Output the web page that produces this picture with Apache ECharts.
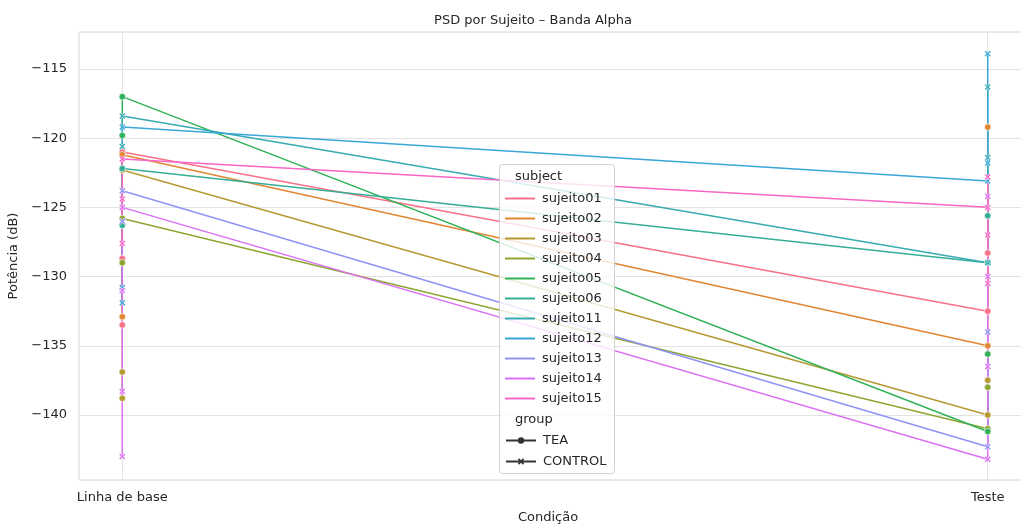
<!DOCTYPE html>
<html>
<head>
<meta charset="utf-8">
<script src="https://cdn.jsdelivr.net/npm/echarts@6/dist/echarts.min.js"></script>
<style>
  html, body { margin: 0; padding: 0; background: #fff; }
  #chart { width: 1021px; height: 524px; }
</style>
</head>
<body>
<div id="chart"></div>
<script>
// Conditions on the x axis
const conditions = ['Linha de base', 'Teste'];
const yTicks = [-140, -135, -130, -125, -120, -115];

const subjects = ['sujeito01', 'sujeito02', 'sujeito03', 'sujeito04', 'sujeito05', 'sujeito06',
                  'sujeito11', 'sujeito12', 'sujeito13', 'sujeito14', 'sujeito15'];
const groups = ['TEA', 'TEA', 'TEA', 'TEA', 'TEA', 'TEA',
                'CONTROL', 'CONTROL', 'CONTROL', 'CONTROL', 'CONTROL'];

// Alpha-band power (dB) per subject, in recording order, for each condition
const baseline = [
  [-133.5, -128.7, -121.0],
  [-132.9, -121.2],
  [-138.8, -136.9, -122.3],
  [-129.0, -125.8],
  [-119.8, -117.0],
  [-126.3, -122.2],
  [-120.6, -118.4],
  [-130.8, -131.9, -119.2],
  [-126.0, -123.8],
  [-143.0, -138.3, -131.0, -125.0],
  [-127.6, -124.4, -121.5]
];
const teste = [
  [-132.5, -128.3],
  [-135.0, -119.2],
  [-140.0, -137.5],
  [-141.0, -138.0],
  [-141.2, -135.6],
  [-129.0, -125.6],
  [-129.0, -121.4, -116.3],
  [-123.1, -113.9, -121.8],
  [-142.3, -134.0],
  [-143.2, -136.5, -130.0, -124.2],
  [-125.0, -122.8, -127.0, -130.5]
];

// HUSL colour conversion (same scheme as the seaborn "husl" palette)
function huslToRgb(h, s, l) {
  const m = [[3.2406, -1.5372, -0.4986], [-0.9689, 1.8758, 0.0415], [0.0557, -0.2040, 1.0570]];
  const refU = 0.19784, refV = 0.46834, labE = 0.008856, labK = 903.3;
  const hrad = h / 360 * 2 * Math.PI, sinH = Math.sin(hrad), cosH = Math.cos(hrad);
  const sub1 = Math.pow(l + 16, 3) / 1560896;
  const sub2 = sub1 > labE ? sub1 : l / labK;
  let maxC = Infinity;
  m.forEach(function (row) {
    const m1 = row[0], m2 = row[1], m3 = row[2];
    const top = (0.99915 * m1 + 1.05122 * m2 + 1.14460 * m3) * sub2;
    const rb = 0.86330 * m3 - 0.17266 * m2;
    const lb = 0.12949 * m3 - 0.38848 * m1;
    const bottom = (rb * sinH + lb * cosH) * sub2;
    [0, 1].forEach(function (t) {
      const C = l * (top - 1.05122 * t) / (bottom + 0.17266 * sinH * t);
      if (C > 0 && C < maxC) maxC = C;
    });
  });
  const C = maxC / 100 * s;
  const U = C * cosH, V = C * sinH;
  const t = (l + 16) / 116;
  const Y = Math.pow(t, 3) > labE ? Math.pow(t, 3) : (116 * t - 16) / labK;
  const varU = U / (13 * l) + refU, varV = V / (13 * l) + refV;
  const X = -(9 * Y * varU) / ((varU - 4) * varV - varU * varV);
  const Z = (9 * Y - 15 * varV * Y - varV * X) / (3 * varV);
  const rgb = m.map(function (r) {
    let c = r[0] * X + r[1] * Y + r[2] * Z;
    c = c <= 0.0031308 ? 12.92 * c : 1.055 * Math.pow(c, 1 / 2.4) - 0.055;
    return Math.round(Math.min(1, Math.max(0, c)) * 255);
  });
  return 'rgb(' + rgb.join(',') + ')';
}
function huslPalette(n) {
  const out = [];
  for (let i = 0; i < n; i++) {
    const h = ((i / n + 0.01) % 1) * 359;
    out.push(huslToRgb(h, 0.9 * 99, 0.65 * 99));
  }
  return out;
}
const colors = huslPalette(subjects.length);

const TEXT = '#262626';
const FONT = 'DejaVu Sans';
const X_MARK = 'path://M2,0L5,3L8,0L10,2L7,5L10,8L8,10L5,7L2,10L0,8L3,5L0,2Z';
const markerOf = function (g) { return g === 'TEA' ? 'circle' : X_MARK; };

const series = subjects.map(function (name, i) {
  const pts = baseline[i].map(function (v) { return [0, v]; })
    .concat(teste[i].map(function (v) { return [1, v]; }));
  return {
    name: name,
    type: 'line',
    data: pts,
    color: colors[i],
    symbol: markerOf(groups[i]),
    symbolSize: groups[i] === 'TEA' ? 6.5 : 6.5,
    showAllSymbol: true,
    lineStyle: { width: 1.5 },
    itemStyle: { borderColor: '#ffffff', borderWidth: 0.6 },
    emphasis: { disabled: true }
  };
});
// Style entries for the group legend
['TEA', 'CONTROL'].forEach(function (g) {
  series.push({
    name: g, type: 'line', data: [], color: '#333333',
    symbol: markerOf(g), symbolSize: 7, lineStyle: { width: 1.5 }
  });
});

const chart = echarts.init(document.getElementById('chart'));
chart.setOption({
  animation: false,
  backgroundColor: '#ffffff',
  textStyle: { fontFamily: FONT },
  title: {
    text: 'PSD por Sujeito – Banda Alpha',
    left: 528, top: 9, textAlign: 'center',
    textStyle: { fontFamily: FONT, fontSize: 13, fontWeight: 'normal', color: TEXT }
  },
  grid: {
    left: 79, right: -10, top: 32, bottom: 44,
    containLabel: false, outerBoundsMode: 'none',
    show: true, borderColor: '#d4d4d4', borderWidth: 1
  },
  xAxis: {
    type: 'value', min: -0.05, max: 1.05,
    name: 'Condição', nameLocation: 'middle', nameGap: 31,
    nameTextStyle: { fontFamily: FONT, fontSize: 13, color: TEXT, padding: [0, 14, 0, 0] },
    axisLine: { show: false },
    axisTick: { show: false, customValues: [0, 1] },
    splitLine: { show: true, lineStyle: { color: '#e3e3e3', width: 1 } },
    axisLabel: {
      customValues: [0, 1], margin: 11,
      formatter: function (v) { return conditions[Math.round(v)]; },
      fontFamily: FONT, fontSize: 13, color: TEXT
    }
  },
  yAxis: {
    type: 'value', min: -144.7, max: -112.33,
    name: 'Potência (dB)', nameLocation: 'middle', nameGap: 48,
    nameTextStyle: { fontFamily: FONT, fontSize: 13, color: TEXT },
    axisLine: { show: false },
    axisTick: { show: false, customValues: yTicks },
    splitLine: { show: true, lineStyle: { color: '#e3e3e3', width: 1 } },
    axisLabel: {
      customValues: yTicks, margin: 12,
      formatter: function (v) { return String(v).replace('-', '\u2212'); },
      fontFamily: FONT, fontSize: 13, color: TEXT
    }
  },
  graphic: [
    {
      type: 'rect', z: 50,
      shape: { x: 499.5, y: 164.5, width: 115, height: 309, r: 3 },
      style: { fill: 'rgba(255,255,255,0.8)', stroke: '#d0d0d0', lineWidth: 1 }
    },
    {
      type: 'text', z: 51, left: 515, top: 170,
      style: { text: 'subject', font: '13px "DejaVu Sans"', fill: TEXT }
    },
    {
      type: 'text', z: 51, left: 515, top: 413,
      style: { text: 'group', font: '13px "DejaVu Sans"', fill: TEXT }
    }
  ],
  legend: [
    {
      z: 60, orient: 'vertical', left: 505, top: 191,
      data: subjects.map(function (s, i) {
        return { name: s, icon: 'rect', itemStyle: { color: colors[i], borderWidth: 0, opacity: 1 } };
      }),
      itemWidth: 30, itemHeight: 2, itemGap: 5, selectedMode: false,
      padding: 0,
      textStyle: { fontFamily: FONT, fontSize: 13, color: TEXT, lineHeight: 15, padding: [0, 0, 0, 2] }
    },
    {
      z: 60, orient: 'vertical', left: 505, top: 433,
      data: ['TEA', 'CONTROL'],
      itemWidth: 30, itemHeight: 8, itemGap: 6, selectedMode: false,
      padding: 0,
      textStyle: { fontFamily: FONT, fontSize: 13, color: TEXT, lineHeight: 15, padding: [0, 0, 0, 2] }
    }
  ],
  series: series
});
</script>
</body>
</html>
